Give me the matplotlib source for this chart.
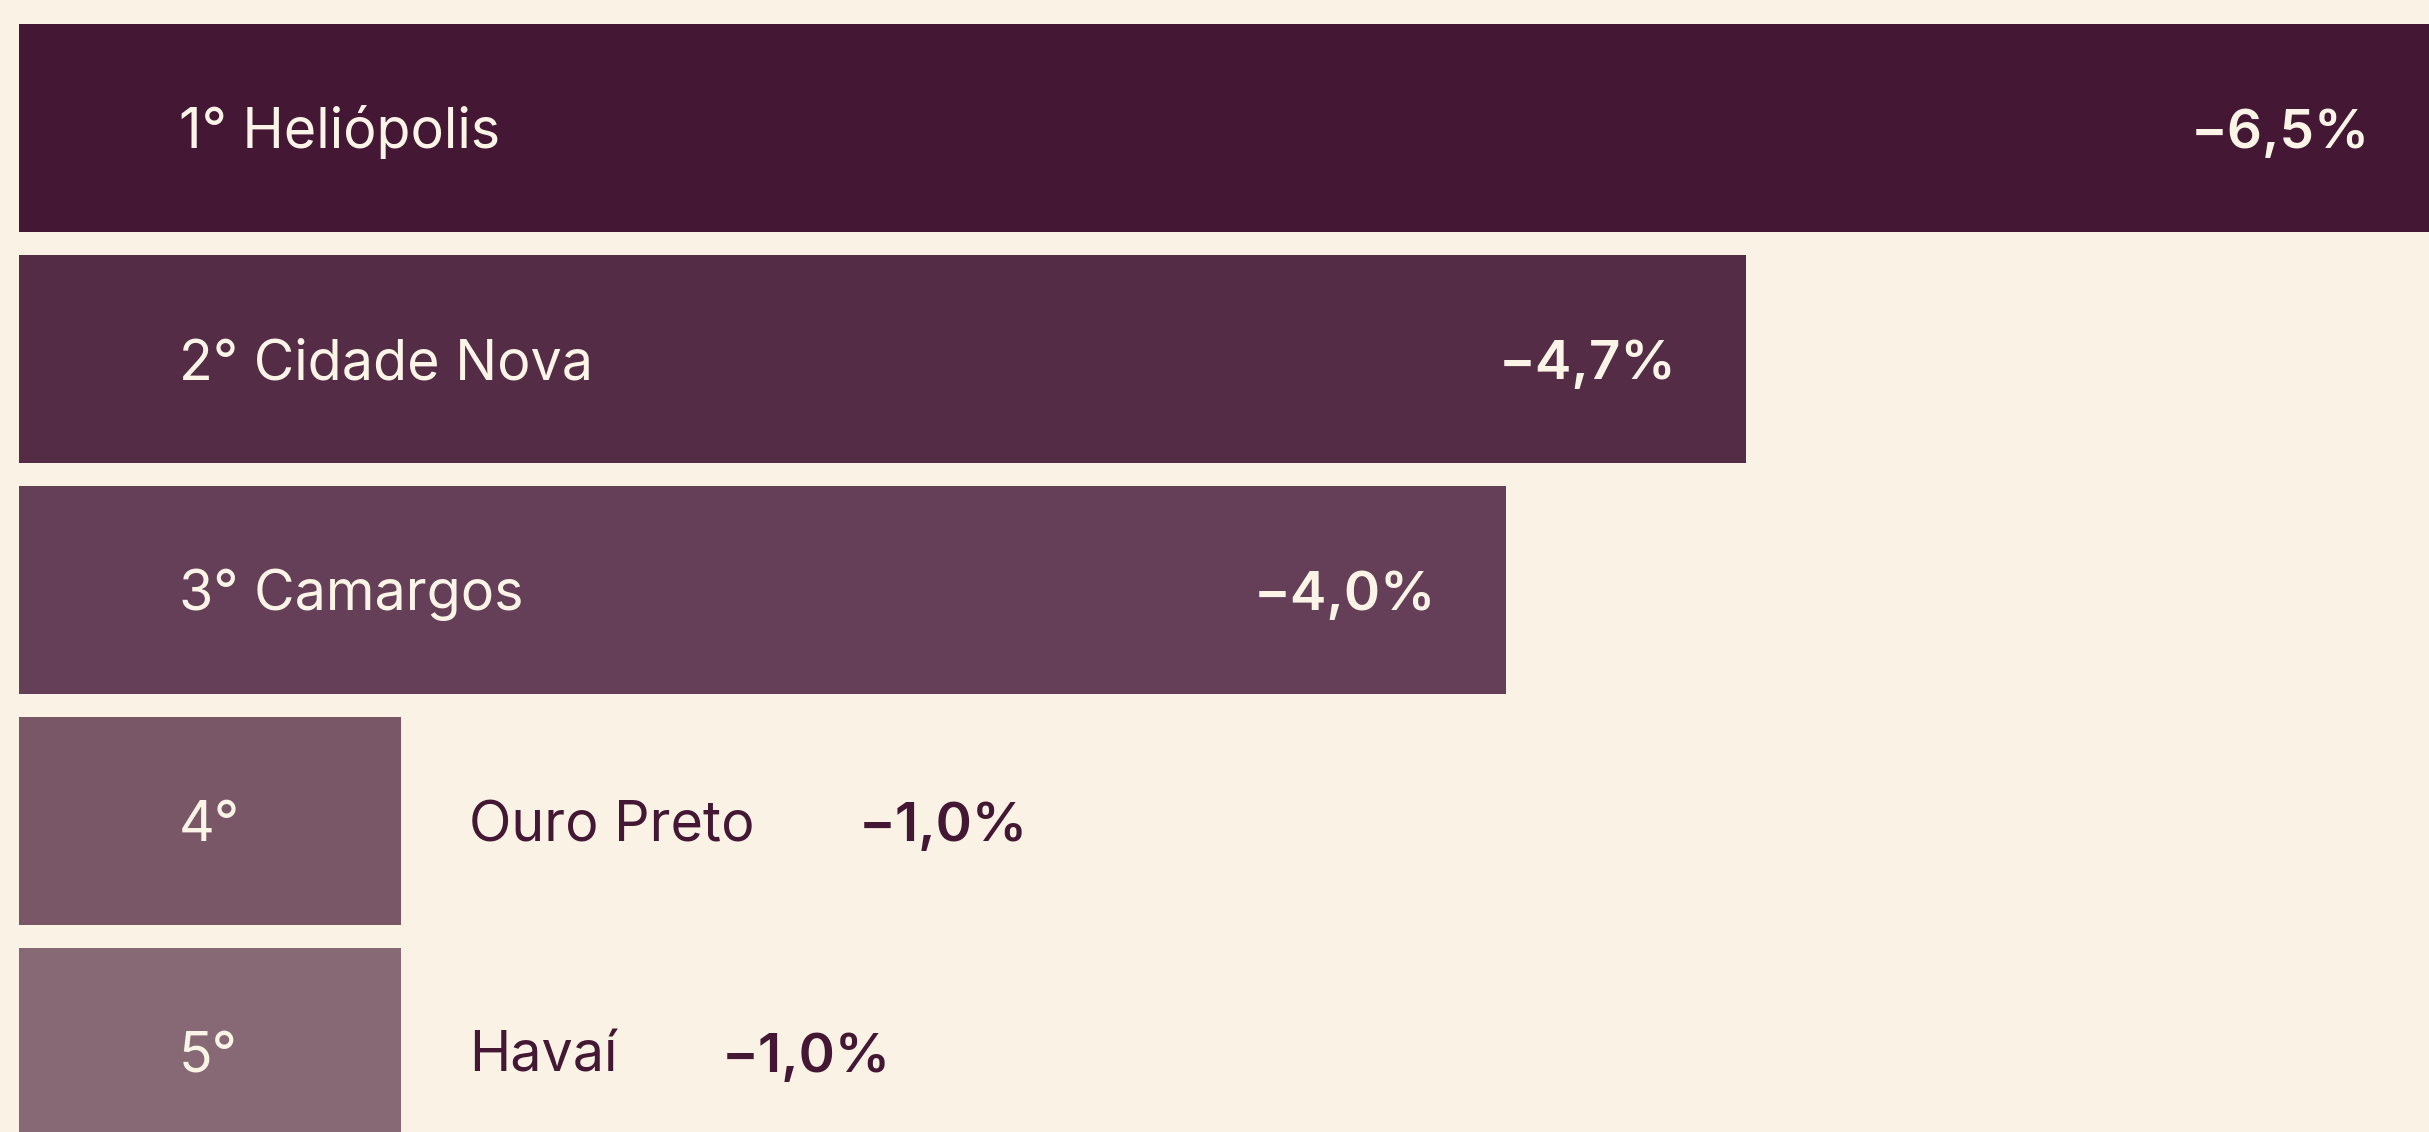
import matplotlib
matplotlib.use("Agg")
import matplotlib.pyplot as plt

# Data
ranks = ["1°", "2°", "3°", "4°", "5°"]
bairros = ["Heliópolis", "Cidade Nova", "Camargos", "Ouro Preto", "Havaí"]
variacao = [-6.56, -4.68, -4.03, -1.035, -1.035]
rotulos = ["−6,5%", "−4,7%", "−4,0%", "−1,0%", "−1,0%"]
dentro = [True, True, True, False, False]

bar_colors = ["#441834", "#542c46", "#653f57", "#795767", "#876975"]
bg = "#faf3e5"
cream = "#fbf4e7"
dark = "#441834"

W, H, DPI = 2429, 1132, 100
fig = plt.figure(figsize=(W / DPI, H / DPI), dpi=DPI, facecolor=bg)
left_px = 19
ax = fig.add_axes([left_px / W, 0, 1 - left_px / W, 1])
ax.set_facecolor(bg)
ax.axis("off")

pitch = 231.0
ypos = list(range(len(bairros)))
ax.barh(ypos, variacao, height=208 / pitch, color=bar_colors, linewidth=0)
ax.set_xlim(0, -6.531)
ax.set_ylim(4 + (H - 1052) / pitch, -128 / pitch)

fam = ["Inter", "DejaVu Sans"]
fs_name = 40
fs_pct = 39.5

for i, (rk, nm, v, lab, ins) in enumerate(zip(ranks, bairros, variacao, rotulos, dentro)):
    if ins:
        ax.annotate(f"{rk} {nm}", xy=(0, i), xycoords="data", xytext=(160, -20),
                    textcoords="offset pixels", ha="left", va="baseline",
                    fontsize=fs_name, color=cream, family=fam, annotation_clip=False)
        ax.annotate(lab, xy=(v, i), xycoords="data", xytext=(-70, -20),
                    textcoords="offset pixels", ha="right", va="baseline",
                    fontsize=fs_pct, color=cream, family=fam, fontweight="semibold",
                    annotation_clip=False)
    else:
        ax.annotate(rk, xy=(0, i), xycoords="data", xytext=(160, -20),
                    textcoords="offset pixels", ha="left", va="baseline",
                    fontsize=fs_name, color=cream, family=fam, annotation_clip=False)
        t = ax.annotate(nm, xy=(v, i), xycoords="data", xytext=(68, -20),
                        textcoords="offset pixels", ha="left", va="baseline",
                        fontsize=fs_name, color=dark, family=fam, annotation_clip=False)
        ax.annotate(lab, xy=(1, i), xycoords=(t, "data"), xytext=(104, -20),
                    textcoords="offset pixels", ha="left", va="baseline",
                    fontsize=fs_pct, color=dark, family=fam, fontweight="semibold",
                    annotation_clip=False)

fig.savefig("out.png", dpi=DPI, facecolor=bg)
